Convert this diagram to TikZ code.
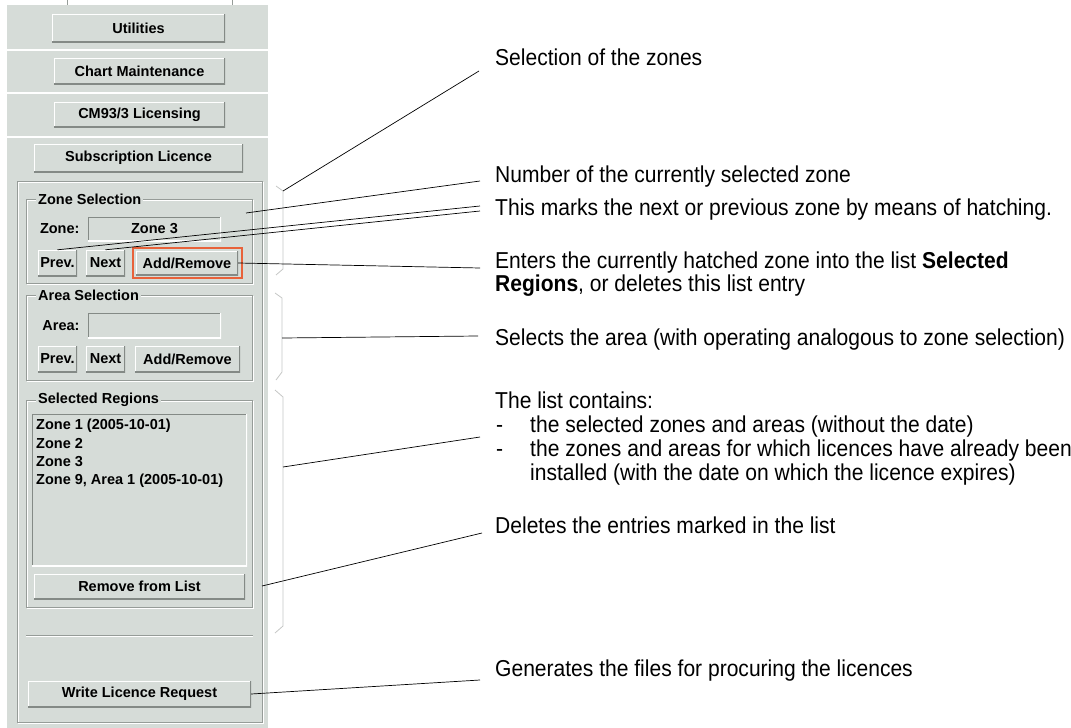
\documentclass[tikz,border=0pt]{standalone}
\usepackage{fontspec}
\setmainfont{Liberation Sans}
\newfontfamily\annfont[FakeStretch=0.915]{Liberation Sans}
\usetikzlibrary{positioning}
\definecolor{panelbg}{RGB}{214,220,216}
\definecolor{edgedark}{RGB}{132,138,134}
\definecolor{framegray}{RGB}{150,156,152}
\definecolor{focusorange}{RGB}{232,98,58}
\definecolor{bracegray}{RGB}{196,198,197}

\begin{document}
\begin{tikzpicture}[x=1pt, y=-1pt,
	gui/.style={font=\fontsize{14.5}{16}\selectfont\bfseries},
	btn/.style={gui, fill=panelbg, inner sep=0pt, path picture={
		\draw[white, line width=2.4pt] (path picture bounding box.south west) -- (path picture bounding box.north west) -- (path picture bounding box.north east);
		\draw[edgedark, line width=2.4pt] (path picture bounding box.south west) -- (path picture bounding box.south east) -- (path picture bounding box.north east);}},
	sunken/.style={gui, fill=panelbg, inner sep=0pt, path picture={
		\draw[edgedark, line width=2.4pt] (path picture bounding box.south west) -- (path picture bounding box.north west) -- (path picture bounding box.north east);
		\draw[white, line width=2.4pt] (path picture bounding box.south west) -- (path picture bounding box.south east) -- (path picture bounding box.north east);}},
	grp/.style={draw=framegray, line width=0.8pt},
	grplight/.style={draw=white, line width=0.8pt},
	grptitle/.style={gui, fill=panelbg, inner xsep=2pt, inner ysep=0pt, anchor=west},
	item/.style={gui, anchor=west, inner sep=0pt},
	brace/.style={draw=bracegray, line width=0.8pt},
	callout/.style={draw=black, line width=0.7pt},
	note/.style={font=\annfont\fontsize{23}{23}\selectfont, anchor=base west, inner sep=0pt}]
	\useasboundingbox (0,0) rectangle (1071,728);
	% panel
	\fill[panelbg] (7,5) rectangle (268,728);
	\draw[framegray] (67,0) -- (67,5);
	\draw[framegray] (232,0) -- (232,5);
	\foreach \y in {50,93,137}
		\draw[white, line width=1.2pt] (7,\y) -- (268,\y);
	\node[btn, minimum width=173pt, minimum height=28pt] (utilities) at (138.5,28) {Utilities};
	\node[btn, minimum width=171pt, minimum height=26pt] (chartmaint) at (139.5,71) {Chart Maintenance};
	\node[btn, minimum width=171pt, minimum height=25pt] (cmlic) at (139.5,114.5) {CM93/3 Licensing};
	\node[btn, minimum width=209pt, minimum height=28pt] (sublic) at (138.5,158) {Subscription Licence};
	\draw[grplight] (18,182) rectangle (263,723);
	\draw[grp] (17,181) rectangle (262,722);
	% zone selection
	\draw[grplight] (27,200) rectangle (253,284);
	\draw[grp] (26,199) rectangle (252,283);
	\node[grptitle] (zonettl) at (36,199) {Zone Selection};
	\node[gui, anchor=east] (zonelbl) at (83,229) {Zone:};
	\node[sunken, minimum width=133pt, minimum height=24pt] (zonefld) at (154.5,229) {Zone 3};
	\node[btn, minimum width=39pt, minimum height=26pt] (prevz) at (57.5,263) {Prev.};
	\node[btn, minimum width=39pt, minimum height=26pt] (nextz) at (105.5,263) {Next};
	\node[btn, minimum width=102pt, minimum height=24pt] (addz) at (187,263) {Add/Remove};
	\draw[focusorange, line width=1.5pt] (133,248) rectangle (242,278);
	% area selection
	\draw[grplight] (27,296) rectangle (253,381);
	\draw[grp] (26,295) rectangle (252,380);
	\node[grptitle] (areattl) at (36,295) {Area Selection};
	\node[gui, anchor=east] (arealbl) at (83,326) {Area:};
	\node[sunken, minimum width=133pt, minimum height=25pt] (areafld) at (154.5,325.5) {};
	\node[btn, minimum width=39pt, minimum height=26pt] (preva) at (57.5,359) {Prev.};
	\node[btn, minimum width=39pt, minimum height=26pt] (nexta) at (105.5,359) {Next};
	\node[btn, minimum width=105pt, minimum height=26pt] (adda) at (187.5,359) {Add/Remove};
	% selected regions
	\draw[grplight] (27,401) rectangle (253,608);
	\draw[grp] (26,400) rectangle (252,607);
	\node[grptitle] (selttl) at (36,400) {Selected Regions};
	\node[sunken, minimum width=215pt, minimum height=152pt] (regionlist) at (139.5,490) {};
	\node[item] (reg1) at (36,426) {Zone 1 (2005-10-01)};
	\node[item] (reg2) at (36,444) {Zone 2};
	\node[item] (reg3) at (36,462) {Zone 3};
	\node[item] (reg4) at (36,481) {Zone 9, Area 1 (2005-10-01)};
	\node[btn, minimum width=211pt, minimum height=25pt] (remlist) at (139.5,586.5) {Remove from List};
	\draw[framegray] (26,635) -- (253,635);
	\draw[white] (26,636) -- (253,636);
	\node[btn, minimum width=223pt, minimum height=26pt] (writereq) at (139.5,694) {Write Licence Request};
	% brackets
	\draw[brace] (276,186) -- (283,191) coordinate (zonebr) -- (283,269) -- (276,275);
	\draw[brace] (275,293) -- (282,298) -- (282,372) -- (276,380);
	\draw[brace] (275,390) -- (283,397) -- (283,626) -- (275,633);
	\coordinate (areabr) at (282,338);
	\coordinate (listbr) at (283,467);
	\coordinate (zonenum) at (246,213);
	\coordinate (remedge) at (262,586);
	% notes
	\node[note] (selzones) at (495,65) {Selection of the zones};
	\node[note] (numzone) at (495,182) {Number of the currently selected zone};
	\node[note] (marks) at (495,215) {This marks the next or previous zone by means of hatching.};
	\node[note] (enters) at (495,268) {Enters the currently hatched zone into the list \textbf{Selected}};
	\node[note] (enters2) at (495,291) {\textbf{Regions}, or deletes this list entry};
	\node[note] (selarea) at (495,345) {Selects the area (with operating analogous to zone selection)};
	\node[note] (listhd) at (495,408) {The list contains:};
	\node[note] (dash1) at (496,432) {-};
	\node[note] (item1) at (530,432) {the selected zones and areas (without the date)};
	\node[note] (dash2) at (496,456) {-};
	\node[note] (item2) at (530,456) {the zones and areas for which licences have already been};
	\node[note] (item3) at (530,480) {installed (with the date on which the licence expires)};
	\node[note] (deletes) at (495,533) {Deletes the entries marked in the list};
	\node[note] (generates) at (495,676) {Generates the files for procuring the licences};
	\coordinate (e1) at (479,71);
	\coordinate (e2) at (480,181);
	\coordinate (e3) at (480,206);
	\coordinate (e4) at (480,211);
	\coordinate (e5) at (480,268);
	\coordinate (e6) at (478,336);
	\coordinate (e7) at (480,437);
	\coordinate (e8) at (482,533);
	\coordinate (e9) at (480,680);
	% callouts
	\draw[callout] (zonebr) -- (e1);
	\draw[callout] (zonenum) -- (e2);
	\draw[callout] (prevz.north) -- (e3);
	\draw[callout] (nextz.north) -- (e4);
	\draw[callout] (addz.east) -- (e5);
	\draw[callout] (areabr) -- (e6);
	\draw[callout] (listbr) -- (e7);
	\draw[callout] (remedge) -- (e8);
	\draw[callout] (writereq.east) -- (e9);
\end{tikzpicture}
\end{document}
